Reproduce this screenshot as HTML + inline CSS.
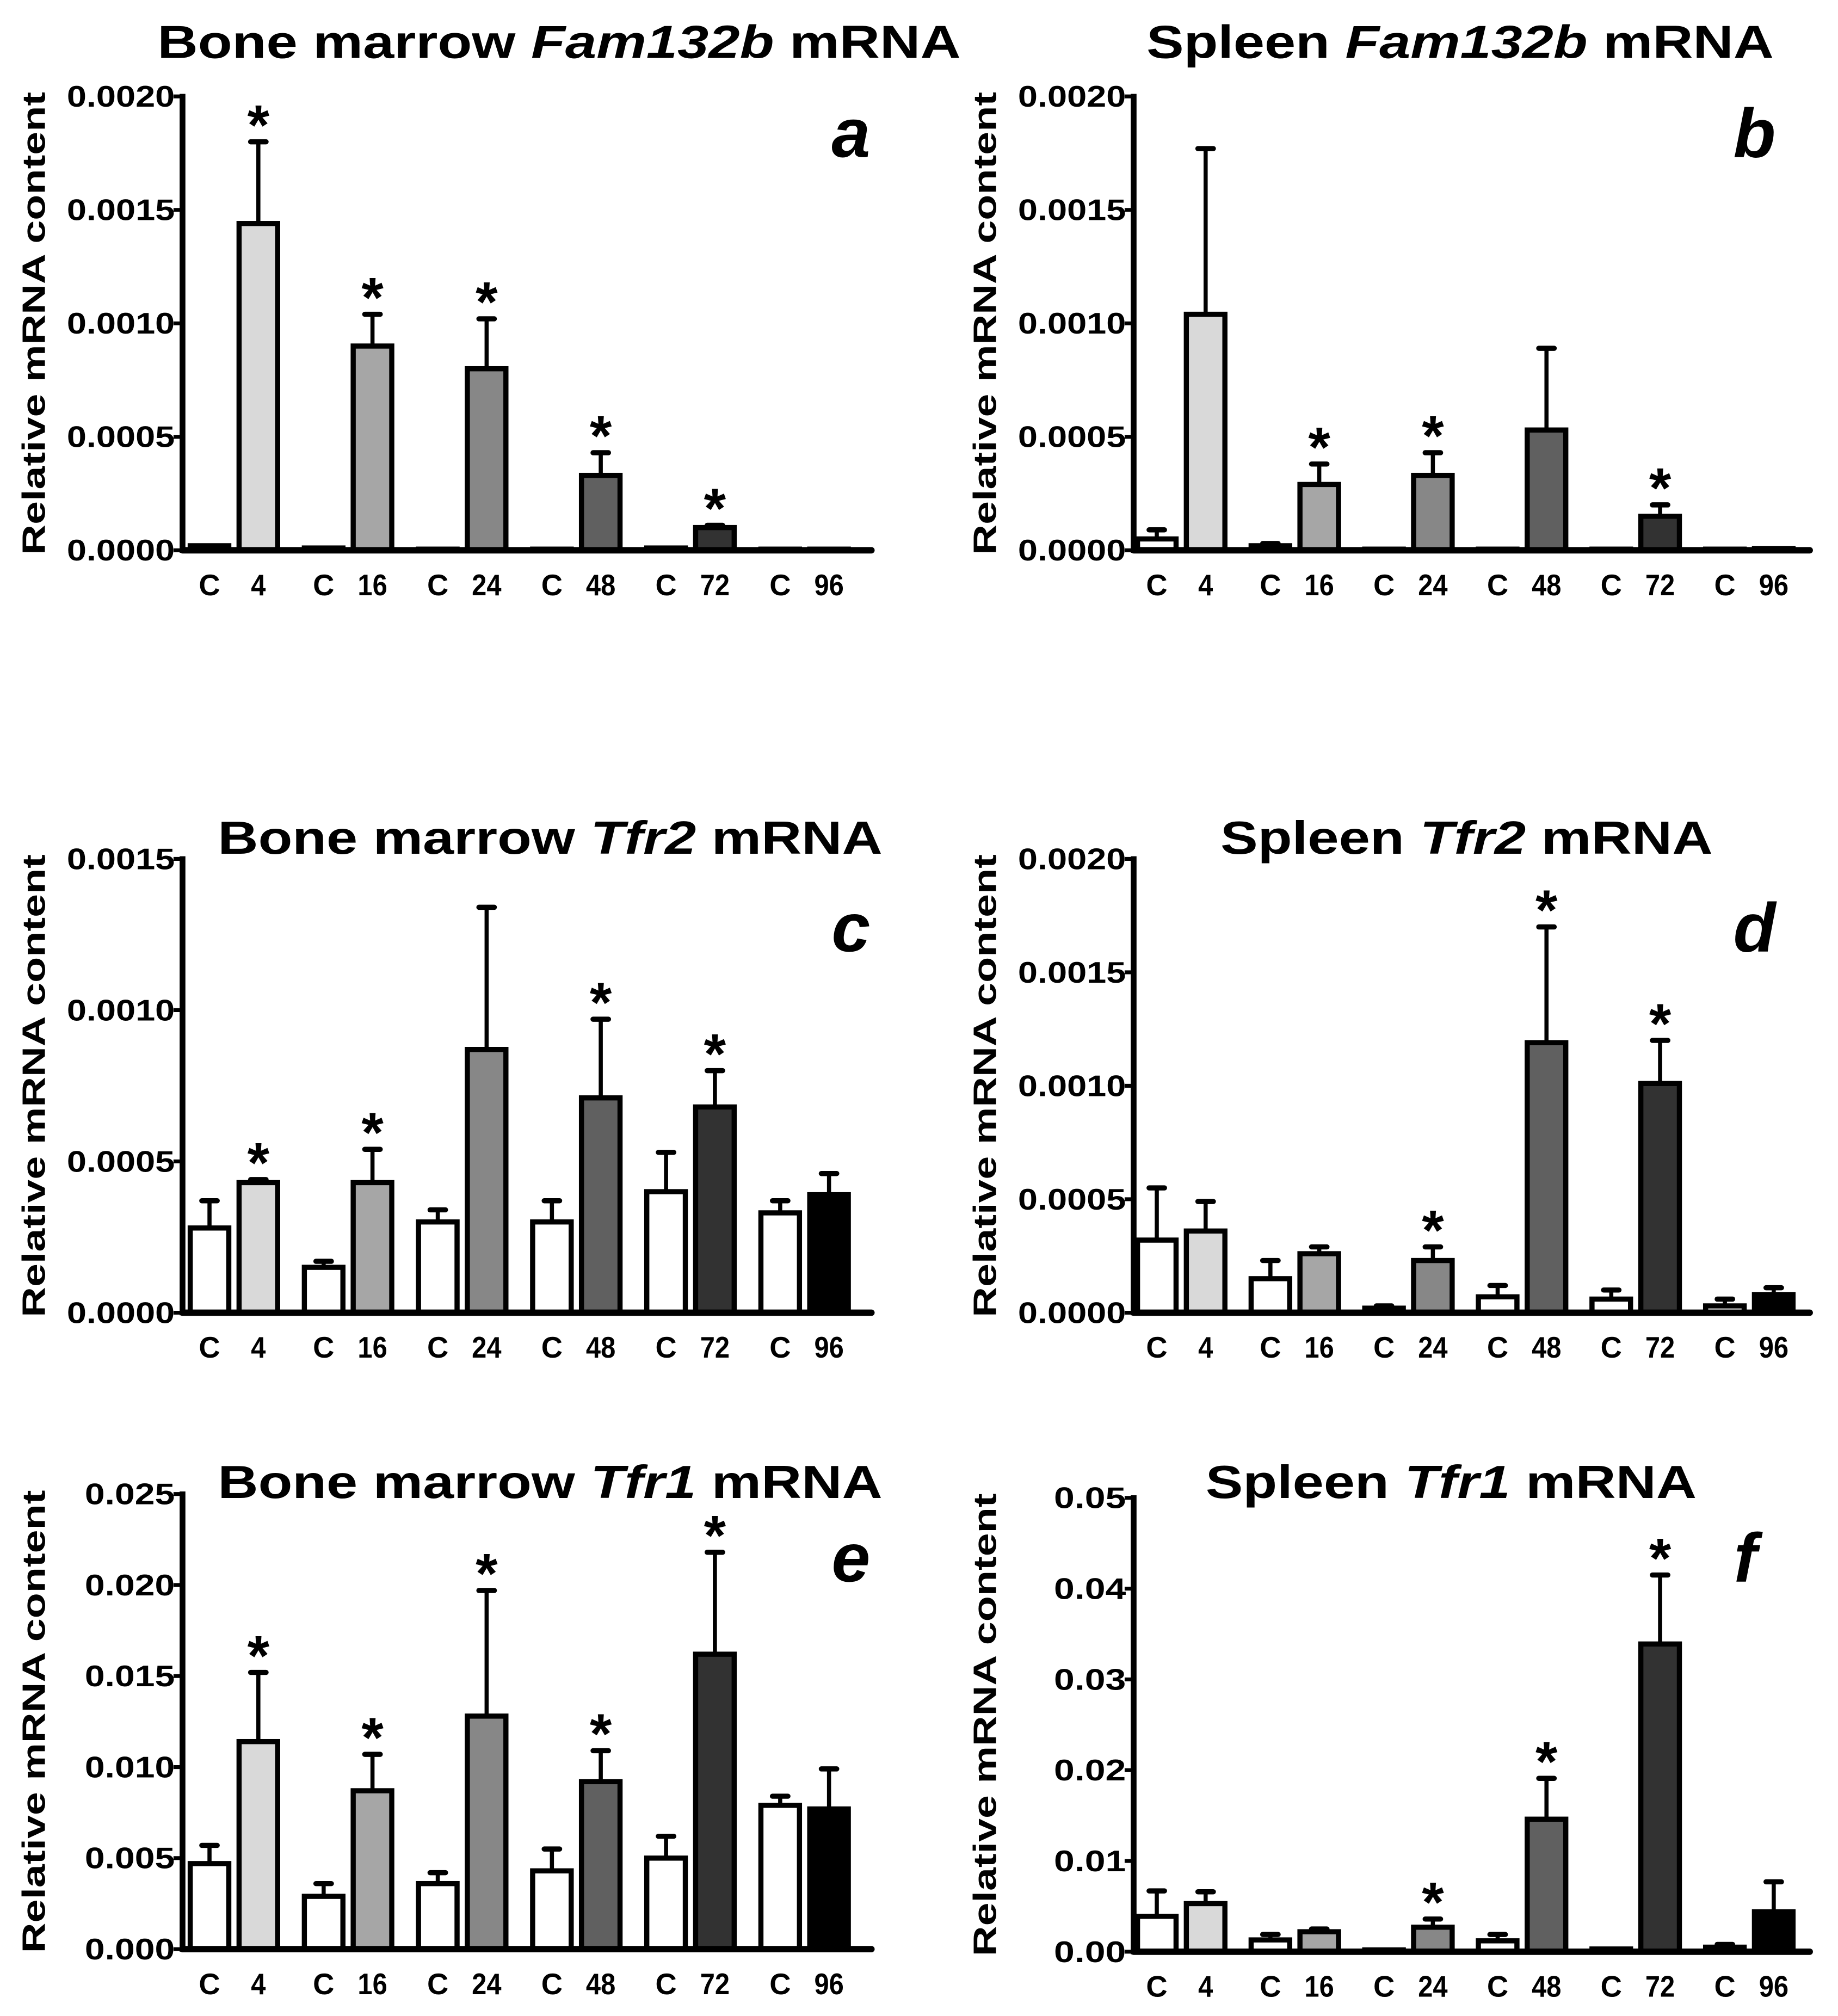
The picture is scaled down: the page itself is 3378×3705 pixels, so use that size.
<!DOCTYPE html>
<html><head><meta charset="utf-8"><style>
html,body{margin:0;padding:0;background:#fff;}
svg{display:block;}
text{font-family:"Liberation Sans",Arial,sans-serif;font-weight:bold;fill:#000;}
</style></head><body>
<svg id="fig" width="3378" height="3705" viewBox="0 0 1430 1568" preserveAspectRatio="none" xmlns="http://www.w3.org/2000/svg"></svg>
<script>
// ---- data ----
const groupLabels = ["4","16","24","48","72","96"];
const fillColors = ["#d9d9d9","#a6a6a6","#878787","#606060","#323232","#000000"];

const aCtrl = [0.00002,0.00001,0.000005,0.000005,0.00001,0.000005];
const aCtrlErr = [0,0,0,0,0,0];
const aTreat = [0.00144,0.0009,0.0008,0.00033,0.0001,0.000005];
const aTreatErr = [0.00036,0.00014,0.00022,0.0001,0.00001,0];
const aStars = [1,1,1,1,1,0];
const aTicks = ["0.0000","0.0005","0.0010","0.0015","0.0020"];

const bCtrl = [0.00005,0.00002,0.000005,0.000005,0.000005,0.000005];
const bCtrlErr = [0.00004,0.00001,0,0,0,0];
const bTreat = [0.00104,0.00029,0.00033,0.00053,0.00015,0.000008];
const bTreatErr = [0.00073,0.00009,0.0001,0.00036,0.00005,0];
const bStars = [0,1,1,0,1,0];
const bTicks = ["0.0000","0.0005","0.0010","0.0015","0.0020"];

const cCtrl = [0.00028,0.00015,0.0003,0.0003,0.0004,0.00033];
const cCtrlErr = [0.00009,0.00002,0.00004,0.00007,0.00013,0.00004];
const cTreat = [0.00043,0.00043,0.00087,0.00071,0.00068,0.00039];
const cTreatErr = [0.00001,0.00011,0.00047,0.00026,0.00012,0.00007];
const cStars = [1,1,0,1,1,0];
const cTicks = ["0.0000","0.0005","0.0010","0.0015"];

const dCtrl = [0.00032,0.00015,0.00002,0.00007,0.00006,0.00003];
const dCtrlErr = [0.00023,0.00008,0.00001,0.00005,0.00004,0.00003];
const dTreat = [0.00036,0.00026,0.00023,0.00119,0.00101,0.00008];
const dTreatErr = [0.00013,0.00003,0.00006,0.00051,0.00019,0.00003];
const dStars = [0,0,1,1,1,0];
const dTicks = ["0.0000","0.0005","0.0010","0.0015","0.0020"];

const eCtrl = [0.0047,0.0029,0.0036,0.0043,0.005,0.0079];
const eCtrlErr = [0.001,0.0007,0.0006,0.0012,0.0012,0.0005];
const eTreat = [0.0114,0.0087,0.0128,0.0092,0.0162,0.0077];
const eTreatErr = [0.0038,0.002,0.0069,0.0017,0.0056,0.0022];
const eStars = [1,1,1,1,1,0];
const eTicks = ["0.000","0.005","0.010","0.015","0.020","0.025"];

const fCtrl = [0.0039,0.0013,0.0002,0.0012,0.0003,0.0005];
const fCtrlErr = [0.0028,0.0006,0,0.0007,0,0.0003];
const fTreat = [0.0053,0.0022,0.0027,0.0146,0.0339,0.0044];
const fTreatErr = [0.0013,0.0003,0.0009,0.0045,0.0076,0.0033];
const fStars = [0,0,1,1,1,0];
const fTicks = ["0.00","0.01","0.02","0.03","0.04","0.05"];

const NS = "http://www.w3.org/2000/svg";
const svg = document.getElementById("fig");
function mk(tag, attrs, parent){
  const e = document.createElementNS(NS, tag);
  for (const k in attrs) e.setAttribute(k, attrs[k]);
  (parent||svg).appendChild(e);
  return e;
}

function panel(cfg){
  const g = mk("g", {});
  
  
  const ax = cfg.ax, y0 = cfg.y0, yT = cfg.yTop;
  const maxV = parseFloat(cfg.ticks[cfg.ticks.length-1]);
  const ys = v => y0 - (v / maxV) * (y0 - yT);
  const xc = i => cfg.c0 + i * cfg.sp;
  const xt = i => xc(i) + 38;

  const t = mk("text", {x: cfg.tx, y: cfg.ty, "font-size": 36, "text-anchor": "middle", textLength: cfg.tl, lengthAdjust: "spacingAndGlyphs"}, g);
  
  
  mk("tspan", {}, t).textContent = cfg.t1 + " ";
  mk("tspan", {"font-style": "italic"}, t).textContent = cfg.gene;
  mk("tspan", {}, t).textContent = " mRNA";

  const L = mk("text", {x: cfg.lx, y: cfg.ly, "font-size": 54, "font-style": "italic", "text-anchor": "middle"}, g);
  L.textContent = cfg.id;
  
  

  const yl = mk("text", {x: 0, y: 0, "font-size": 25, "text-anchor": "middle", transform: `translate(${ax-107},${(y0+yT)/2}) rotate(-90)`, textLength: 360, lengthAdjust: "spacingAndGlyphs"}, g);
  yl.textContent = "Relative mRNA content";
  
  

  cfg.ticks.forEach((lab) => {
    const v = parseFloat(lab);
    const y = ys(v);
    const tk = mk("line", {x1: ax-7, x2: ax, y1: y, y2: y, stroke: "#000", "stroke-width": 3}, g);
    
    
    const tl = mk("text", {x: ax-6, y: y+8, "font-size": 23, "text-anchor": "end", textLength: lab.length*14, lengthAdjust: "spacingAndGlyphs"}, g);
    tl.textContent = lab;
    
    
  });

  function bar(x, v, err, fill, name){
    const bw = 30;
    const top = ys(v);
    const h = Math.max(y0 - top, 0.5);
    if (err > 0) {
      const et = ys(v + err);
      const el = mk("line", {x1: x, x2: x, y1: top, y2: et, stroke: "#000", "stroke-width": 3.2}, g);
      
      
      const cp = mk("line", {x1: x-6, x2: x+6, y1: et, y2: et, stroke: "#000", "stroke-width": 4, "stroke-linecap": "round"}, g);
      
      
    }
    const r = mk("rect", {x: x-bw/2, y: y0-h, width: bw, height: h, fill: fill, stroke: "#000", "stroke-width": 4}, g);
    
    
  }

  for (let i = 0; i < 6; i++) {
    bar(xc(i), cfg.ctrl[i], cfg.ctrlErr[i], "#ffffff", "bar-control-" + groupLabels[i]);
    bar(xt(i), cfg.treat[i], cfg.treatErr[i], fillColors[i], "bar-" + groupLabels[i] + "h");
    if (cfg.stars[i]) {
      const st = mk("text", {x: xt(i), y: ys(cfg.treat[i] + cfg.treatErr[i]) + 2, "font-size": 44, "text-anchor": "middle"}, g);
      st.textContent = "*";
      
      
    }
    const cl = mk("text", {x: xc(i), y: y0+35, "font-size": 23, "text-anchor": "middle"}, g);
    cl.textContent = "C";
    
    
    const tl2 = mk("text", {x: xt(i), y: y0+35, "font-size": 23, "text-anchor": "middle", textLength: groupLabels[i].length*11.5, lengthAdjust: "spacingAndGlyphs"}, g);
    tl2.textContent = groupLabels[i];
    
    
  }

  const yA = mk("line", {x1: ax, x2: ax, y1: yT-2, y2: y0+2, stroke: "#000", "stroke-width": 4.5}, g);
  
  
  const xA = mk("line", {x1: ax, x2: cfg.xEnd, y1: y0, y2: y0, stroke: "#000", "stroke-width": 5, "stroke-linecap": "round"}, g);
  
  
}

panel({id:"a", ax:142, y0:428, yTop:75, c0:163, sp:88.8, xEnd:678, ticks:aTicks, ctrl:aCtrl, ctrlErr:aCtrlErr, treat:aTreat, treatErr:aTreatErr, stars:aStars,
  t1:"Bone marrow", gene:"Fam132b", tx:435, ty:45, tl:625, lx:662, ly:122});
panel({id:"b", ax:882, y0:428, yTop:75, c0:900, sp:88.4, xEnd:1408, ticks:bTicks, ctrl:bCtrl, ctrlErr:bCtrlErr, treat:bTreat, treatErr:bTreatErr, stars:bStars,
  t1:"Spleen", gene:"Fam132b", tx:1136, ty:45, tl:488, lx:1365, ly:122});
panel({id:"c", ax:142, y0:1021, yTop:668, c0:163, sp:88.8, xEnd:678, ticks:cTicks, ctrl:cCtrl, ctrlErr:cCtrlErr, treat:cTreat, treatErr:cTreatErr, stars:cStars,
  t1:"Bone marrow", gene:"Tfr2", tx:428, ty:664, tl:517, lx:662, ly:740});
panel({id:"d", ax:882, y0:1021, yTop:668, c0:900, sp:88.4, xEnd:1408, ticks:dTicks, ctrl:dCtrl, ctrlErr:dCtrlErr, treat:dTreat, treatErr:dTreatErr, stars:dStars,
  t1:"Spleen", gene:"Tfr2", tx:1141, ty:664, tl:383, lx:1365, ly:740});
panel({id:"e", ax:142, y0:1516, yTop:1162, c0:163, sp:88.8, xEnd:678, ticks:eTicks, ctrl:eCtrl, ctrlErr:eCtrlErr, treat:eTreat, treatErr:eTreatErr, stars:eStars,
  t1:"Bone marrow", gene:"Tfr1", tx:428, ty:1165, tl:517, lx:662, ly:1230});
panel({id:"f", ax:882, y0:1518, yTop:1165, c0:900, sp:88.4, xEnd:1408, ticks:fTicks, ctrl:fCtrl, ctrlErr:fCtrlErr, treat:fTreat, treatErr:fTreatErr, stars:fStars,
  t1:"Spleen", gene:"Tfr1", tx:1129, ty:1165, tl:382, lx:1358, ly:1230});
</script>
</body></html>
